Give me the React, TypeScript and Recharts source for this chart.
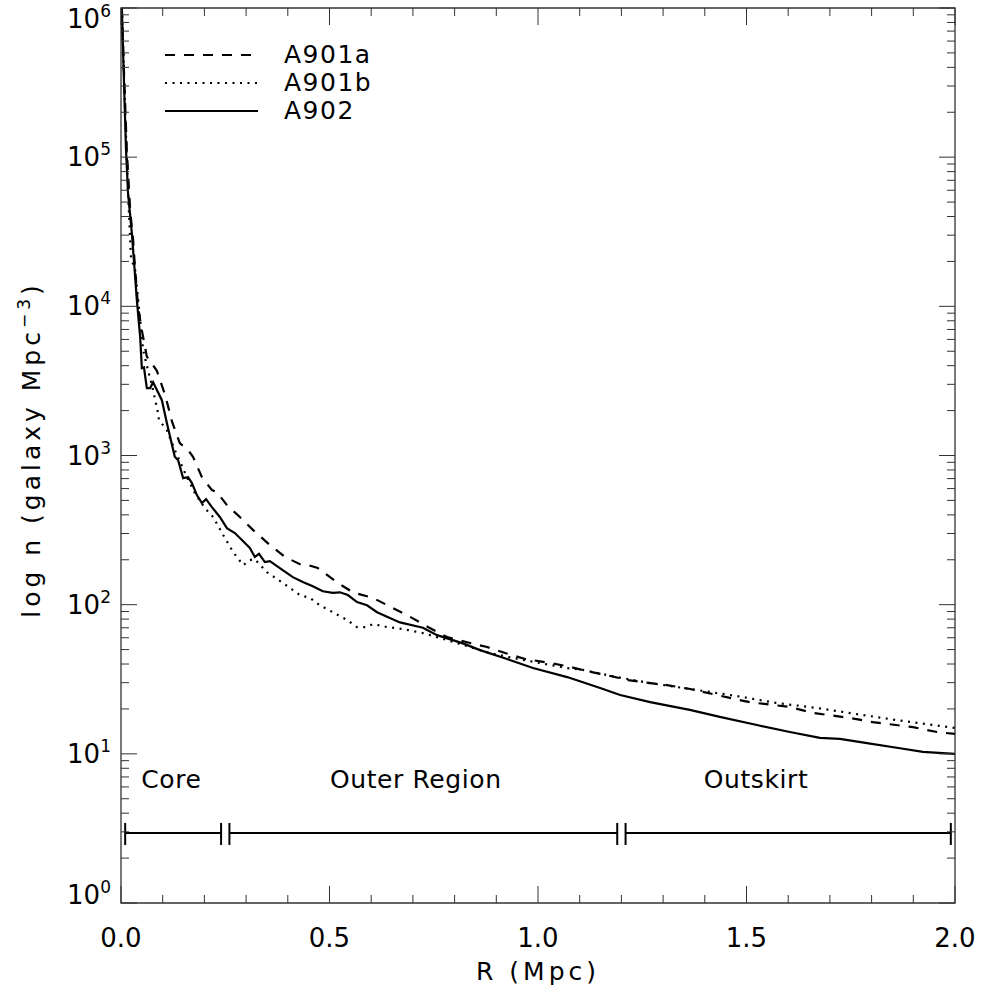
import React from 'react';
import { LineChart, Line, XAxis, YAxis, ReferenceLine, ReferenceDot, ReferenceArea, Legend } from 'recharts';

// ---------------- data ----------------
const a901aR = [0.002, 0.008, 0.014, 0.022, 0.029, 0.034, 0.041, 0.050, 0.062, 0.086, 0.106, 0.122, 0.141, 0.161, 0.173, 0.194, 0.218, 0.230, 0.254, 0.285, 0.317, 0.357, 0.393, 0.429, 0.441, 0.472, 0.518, 0.556, 0.604, 0.652, 0.693, 0.736, 0.782, 0.830, 0.878, 0.921, 0.969, 1.017, 1.07, 1.117, 1.165, 1.216, 1.269, 1.309, 1.365, 1.460, 1.508, 1.604, 1.66, 1.748, 1.803, 1.899, 1.957, 2.0];
const a901aN = [1000000, 320000, 110000, 44000, 28000, 17500, 9900, 6900, 4600, 3700, 2540, 1700, 1210, 1090, 977, 716, 587, 569, 465, 387, 316, 251, 209, 187, 187, 176, 141, 121, 111, 95, 83, 70.8, 60.7, 56, 52, 47.4, 43.2, 41.2, 38.7, 35.9, 33.7, 31.2, 29.8, 28.9, 27.2, 23.7, 22.2, 20.6, 18.8, 17.4, 16.3, 15.1, 14.0, 13.6];

const a901bR = [0.002, 0.010, 0.017, 0.024, 0.034, 0.046, 0.053, 0.065, 0.077, 0.089, 0.091, 0.110, 0.129, 0.158, 0.177, 0.201, 0.221, 0.245, 0.269, 0.293, 0.309, 0.321, 0.350, 0.388, 0.429, 0.453, 0.477, 0.508, 0.542, 0.566, 0.590, 0.604, 0.638, 0.676, 0.724, 0.782, 0.837, 0.885, 0.940, 1.005, 1.07, 1.108, 1.189, 1.269, 1.365, 1.477, 1.573, 1.669, 1.779, 1.875, 2.0];
const a901bN = [1000000, 200000, 57000, 21000, 17500, 8100, 5100, 3700, 2740, 1920, 1730, 1480, 1090, 716, 560, 444, 387, 293, 225, 184, 199, 202, 165, 140, 116, 111, 99, 89, 78.9, 70.8, 70.8, 74.2, 70.8, 68.6, 64.5, 57.9, 52, 47.4, 43.9, 40.6, 37.6, 36.5, 32.7, 29.8, 27.2, 24.4, 21.9, 20.3, 18.2, 16.6, 14.9];

const a902R = [0.002, 0.007, 0.012, 0.017, 0.026, 0.034, 0.038, 0.046, 0.050, 0.055, 0.062, 0.070, 0.077, 0.098, 0.110, 0.129, 0.137, 0.149, 0.161, 0.170, 0.182, 0.194, 0.204, 0.218, 0.237, 0.254, 0.273, 0.290, 0.309, 0.321, 0.331, 0.345, 0.357, 0.381, 0.412, 0.436, 0.460, 0.484, 0.508, 0.525, 0.544, 0.566, 0.590, 0.614, 0.638, 0.669, 0.724, 0.758, 0.820, 0.861, 0.926, 0.988, 1.07, 1.149, 1.197, 1.269, 1.364, 1.436, 1.525, 1.604, 1.676, 1.724, 1.789, 1.868, 1.923, 2.0];
const a902N = [1000000, 330000, 112000, 57000, 31000, 15700, 11000, 6200, 3850, 3900, 2830, 2830, 3100, 2350, 1650, 980, 930, 705, 716, 653, 543, 480, 510, 451, 387, 326, 302, 271, 240, 209, 219, 193, 196, 176, 153, 142, 133, 123, 120, 121, 116, 104, 99, 89, 83, 76, 70, 62.5, 55, 49.6, 43.2, 37.6, 32.7, 27.6, 24.8, 22.2, 19.7, 17.7, 15.6, 14.0, 12.8, 12.6, 11.8, 10.9, 10.3, 10.0];

const seriesNames = ['A901a', 'A901b', 'A902'];

const xTicks = [0, 0.1, 0.2, 0.3, 0.4, 0.5, 0.6, 0.7, 0.8, 0.9, 1.0, 1.1, 1.2, 1.3, 1.4, 1.5, 1.6, 1.7, 1.8, 1.9, 2.0];
const xLabelTicks = [0, 0.5, 1.0, 1.5, 2.0];
const yTicks = [1, 2, 3, 4, 5, 6, 7, 8, 9, 10, 20, 30, 40, 50, 60, 70, 80, 90, 100, 200, 300, 400, 500, 600, 700, 800, 900, 1000, 2000, 3000, 4000, 5000, 6000, 7000, 8000, 9000, 10000, 20000, 30000, 40000, 50000, 60000, 70000, 80000, 90000, 100000, 200000, 300000, 400000, 500000, 600000, 700000, 800000, 900000, 1000000];
const yDecades = [1, 10, 100, 1000, 10000, 100000, 1000000];

const regionNames = ['Core', 'Outer Region', 'Outskirt'];
const regionStart = [0.01, 0.26, 1.21];
const regionEnd = [0.24, 1.19, 1.99];
const regionLabelR = [0.121, 0.707, 1.523];
const regionLabelN = 5.9;
const bracketN = 2.95;
const bracketLow = 2.45;
const bracketHigh = 3.44;

const xTitle = 'R (Mpc)';
const yTitleMain = 'log n (galaxy Mpc';
const yTitleSup = '\u22123';
const yTitleEnd = ')';

// ---------------- layout / styles ----------------
const W = 982;
const H = 994;
const M = { top: 8, right: 27, bottom: 0, left: 0 };
const YAXIS_W = 121;
const XAXIS_H = 91;
const PW = W - YAXIS_W - M.right;
const PH = H - M.top - XAXIS_H;
const FONT = '"DejaVu Sans", Verdana, sans-serif';
const INK = '#000';
const AX = '#333';

const seriesStyle = [
  { dash: '10 9', width: 2.2 },
  { dash: '2 5.5', width: 2.2 },
  { dash: undefined, width: 2.2 },
];

const toData = (rs: number[], ns: number[]) => rs.map((r, i) => ({ r, n: ns[i] }));
const seriesData = [toData(a901aR, a901aN), toData(a901bR, a901bN), toData(a902R, a902N)];

function BottomTick(props: any) {
  const { x, y, payload } = props;
  const v = payload.value;
  const major = xLabelTicks.includes(v);
  const len = major ? 17 : 8;
  return (
    <g>
      <line x1={x} x2={x} y1={y} y2={y - len} stroke={AX} strokeWidth={1} />
      <line x1={x} x2={x} y1={y - PH} y2={y - PH + len} stroke={AX} strokeWidth={1} />
      {major && (
        <text x={x} y={y + 44} textAnchor="middle" fontFamily={FONT} fontSize={26} fill={INK}>
          {v.toFixed(1)}
        </text>
      )}
    </g>
  );
}

function LeftTick(props: any) {
  const { x, y, payload } = props;
  const v = payload.value;
  const major = yDecades.includes(v);
  const len = major ? 16 : 8;
  const exp = Math.round(Math.log10(v));
  const base = v === 1000000 ? 20 : v === 1 ? 1 : 9;
  return (
    <g>
      <line x1={x} x2={x + len} y1={y} y2={y} stroke={AX} strokeWidth={1} />
      <line x1={x + PW} x2={x + PW - len} y1={y} y2={y} stroke={AX} strokeWidth={1} />
      {major && (
        <text x={x - 10} y={y + base} textAnchor="end" fontFamily={FONT} fontSize={26} fill={INK}>
          <tspan>10</tspan>
          <tspan dy={-11} fontSize={17}>{exp}</tspan>
        </text>
      )}
    </g>
  );
}

function LegendBox() {
  const rowY = [25, 53, 81];
  return (
    <svg width={260} height={100} style={{ overflow: 'visible' }}>
      {seriesNames.map((name, i) => (
        <g key={name}>
          <line x1={15} x2={108} y1={rowY[i]} y2={rowY[i]} stroke={INK}
            strokeWidth={seriesStyle[i].width} strokeDasharray={seriesStyle[i].dash} />
          <text x={134} y={rowY[i] + 8} fontFamily={FONT} fontSize={25} letterSpacing={1.5} fill={INK}>{name}</text>
        </g>
      ))}
    </svg>
  );
}

const regionLabel = (name: string) => (props: any) => {
  const vb = props.viewBox || {};
  return (
    <text x={vb.x} y={vb.y} textAnchor="middle" fontFamily={FONT} fontSize={25} letterSpacing={0.6} fill={INK}>{name}</text>
  );
};

const xTitleLabel = (props: any) => {
  const vb = props.viewBox || {};
  return (
    <text x={vb.x + vb.width / 2} y={vb.y + 77} textAnchor="middle" fontFamily={FONT} fontSize={25}
      letterSpacing={4} fill={INK}>{xTitle}</text>
  );
};

const yTitleLabel = (props: any) => {
  const vb = props.viewBox || {};
  const cx = vb.x + 40;
  const cy = vb.y + vb.height / 2 - 6;
  return (
    <text x={cx} y={cy} textAnchor="middle" fontFamily={FONT} fontSize={25} letterSpacing={4} fill={INK}
      transform={`rotate(-90 ${cx} ${cy})`}>
      <tspan>{yTitleMain}</tspan>
      <tspan dy={-10} fontSize={17}>{yTitleSup}</tspan>
      <tspan dy={10}>{yTitleEnd}</tspan>
    </text>
  );
};

export default function App() {
  return (
    <div style={{ position: 'absolute', left: 0, top: 0, width: W, height: H, background: '#fff' }}>
      <LineChart width={W} height={H} margin={M}>
        <XAxis type="number" dataKey="r" domain={[0, 2]} ticks={xTicks} interval={0} tick={BottomTick}
          tickLine={false} axisLine={false} tickSize={0} tickMargin={0} height={XAXIS_H} allowDataOverflow
          label={{ content: xTitleLabel }} />
        <YAxis type="number" scale="log" domain={[1, 1000000]} ticks={yTicks} interval={0} tick={LeftTick}
          tickLine={false} axisLine={false} tickSize={0} tickMargin={0} width={YAXIS_W} allowDataOverflow
          label={{ content: yTitleLabel }} />
        <ReferenceArea x1={0} x2={2} y1={1} y2={1000000} fill="none" stroke={AX} strokeWidth={1.3} ifOverflow="visible" />
        {seriesData.map((d, i) => (
          <Line key={seriesNames[i]} name={seriesNames[i]} data={d} dataKey="n" type="linear" dot={false}
            activeDot={false} stroke={INK} strokeWidth={seriesStyle[i].width}
            strokeDasharray={seriesStyle[i].dash} isAnimationActive={false} />
        ))}
        {regionNames.map((name, i) => (
          <ReferenceLine key={'h' + name} segment={[{ x: regionStart[i], y: bracketN }, { x: regionEnd[i], y: bracketN }]}
            stroke={INK} strokeWidth={2} />
        ))}
        {regionNames.map((name, i) => (
          <ReferenceLine key={'s' + name} segment={[{ x: regionStart[i], y: bracketLow }, { x: regionStart[i], y: bracketHigh }]}
            stroke={INK} strokeWidth={2} />
        ))}
        {regionNames.map((name, i) => (
          <ReferenceLine key={'e' + name} segment={[{ x: regionEnd[i], y: bracketLow }, { x: regionEnd[i], y: bracketHigh }]}
            stroke={INK} strokeWidth={2} />
        ))}
        {regionNames.map((name, i) => (
          <ReferenceDot key={'l' + name} x={regionLabelR[i]} y={regionLabelN} r={0} fill="none" stroke="none"
            label={{ content: regionLabel(name) }} />
        ))}
        <Legend layout="vertical" align="center" verticalAlign="middle"
          wrapperStyle={{ position: 'absolute', left: 150, top: 30, width: 260, height: 100 }}
          content={() => <LegendBox />} />
      </LineChart>
    </div>
  );
}
